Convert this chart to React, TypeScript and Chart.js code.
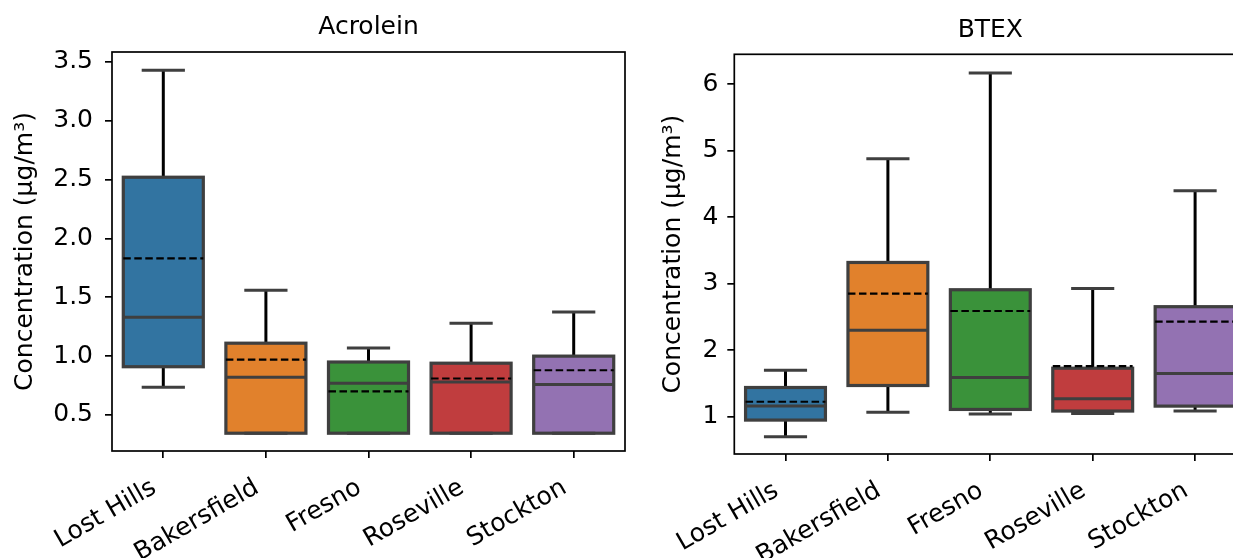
import React, { useEffect, useRef } from "react";
import { Chart, registerables } from "chart.js";

Chart.register(...registerables);

const SITES = ["Lost Hills", "Bakersfield", "Fresno", "Roseville", "Stockton"];
const COLORS = ["#3274a1", "#e1812c", "#3a923a", "#c03d3e", "#9372b2"];
const Y_TITLE = "Concentration (μg/m³)";

// Acrolein box statistics
const ACR_MIN = [0.735, 0.345, 0.345, 0.345, 0.345];
const ACR_Q1 = [0.91, 0.345, 0.345, 0.345, 0.345];
const ACR_MEDIAN = [1.33, 0.82, 0.77, 0.78, 0.76];
const ACR_MEAN = [1.83, 0.97, 0.7, 0.81, 0.88];
const ACR_Q3 = [2.52, 1.11, 0.95, 0.94, 1.0];
const ACR_MAX = [3.43, 1.56, 1.07, 1.28, 1.375];
const ACR_TICKS = [0.5, 1.0, 1.5, 2.0, 2.5, 3.0, 3.5];

// BTEX box statistics
const BTEX_MIN = [0.7, 1.066, 1.04, 1.05, 1.086];
const BTEX_Q1 = [0.95, 1.47, 1.11, 1.086, 1.16];
const BTEX_MEDIAN = [1.16, 2.3, 1.59, 1.27, 1.65];
const BTEX_MEAN = [1.226, 2.85, 2.59, 1.76, 2.43];
const BTEX_Q3 = [1.44, 3.32, 2.91, 1.73, 2.655];
const BTEX_MAX = [1.7, 4.88, 6.17, 2.93, 4.4];
const BTEX_TICKS = [1, 2, 3, 4, 5, 6];

const FAMILY = "'DejaVu Sans', sans-serif";
const FONT_SIZE = 25;

type Panel = {
  title: string;
  min: number[];
  q1: number[];
  median: number[];
  mean: number[];
  q3: number[];
  max: number[];
  ticks: number[];
  decimals: number;
  yMin: number;
  yMax: number;
  padRight: number;
  padTop: number;
  titleY: number;
  yW: number;
  xH: number;
  yTitlePad: number;
  tickPad: number;
};

function boxPlugin(p: Panel) {
  return {
    id: "boxplot_" + p.title,
    afterDatasetsDraw(chart: any) {
      const { ctx, chartArea } = chart;
      const y = chart.scales.y;
      const meta = chart.getDatasetMeta(0);
      ctx.save();
      meta.data.forEach((bar: any, i: number) => {
        const cx = bar.x;
        const w = bar.width;
        const half = w / 2;
        const capHalf = w * 0.27;
        const yq1 = y.getPixelForValue(p.q1[i]);
        const yq3 = y.getPixelForValue(p.q3[i]);
        const ymin = y.getPixelForValue(p.min[i]);
        const ymax = y.getPixelForValue(p.max[i]);
        const ymed = y.getPixelForValue(p.median[i]);
        const ymean = y.getPixelForValue(p.mean[i]);
        ctx.lineCap = "butt";
        // whiskers
        ctx.strokeStyle = "#000";
        ctx.lineWidth = 3;
        ctx.beginPath();
        ctx.moveTo(cx, yq3);
        ctx.lineTo(cx, ymax);
        ctx.moveTo(cx, yq1);
        ctx.lineTo(cx, ymin);
        ctx.stroke();
        // caps
        ctx.strokeStyle = "#3f3f3f";
        ctx.lineWidth = 3;
        ctx.beginPath();
        ctx.moveTo(cx - capHalf, ymax);
        ctx.lineTo(cx + capHalf, ymax);
        ctx.moveTo(cx - capHalf, ymin);
        ctx.lineTo(cx + capHalf, ymin);
        ctx.stroke();
        // box outline
        ctx.strokeStyle = "#3f3f3f";
        ctx.lineWidth = 3.2;
        ctx.strokeRect(cx - half, yq3, w, yq1 - yq3);
        // median
        ctx.beginPath();
        ctx.lineWidth = 3;
        ctx.moveTo(cx - half, ymed);
        ctx.lineTo(cx + half, ymed);
        ctx.stroke();
        // mean (dashed)
        ctx.strokeStyle = "#000";
        ctx.lineWidth = 2.2;
        ctx.setLineDash([7.5, 3.5]);
        ctx.beginPath();
        ctx.moveTo(cx - half, ymean);
        ctx.lineTo(cx + half, ymean);
        ctx.stroke();
        ctx.setLineDash([]);
      });
      // axes frame
      ctx.strokeStyle = "#000";
      ctx.lineWidth = 1.7;
      ctx.strokeRect(
        chartArea.left,
        chartArea.top,
        chartArea.right - chartArea.left,
        chartArea.bottom - chartArea.top
      );
      // subplot title centred over the axes
      ctx.fillStyle = "#000";
      ctx.font = `${FONT_SIZE}px ${FAMILY}`;
      ctx.textAlign = "center";
      ctx.textBaseline = "middle";
      ctx.fillText(p.title, (chartArea.left + chartArea.right) / 2, p.titleY);
      ctx.restore();
    },
  };
}

function makeConfig(p: Panel): any {
  const tickFont = { family: FAMILY, size: FONT_SIZE };
  return {
    type: "bar",
    data: {
      labels: SITES,
      datasets: [
        {
          data: SITES.map((_, i) => [p.q1[i], p.q3[i]]),
          backgroundColor: COLORS,
          borderWidth: 0,
          barPercentage: 0.78,
          categoryPercentage: 1.0,
        },
      ],
    },
    options: {
      responsive: false,
      animation: false,
      devicePixelRatio: 1,
      layout: { padding: { left: 0, right: p.padRight, top: p.padTop, bottom: 0 } },
      plugins: {
        legend: { display: false },
        tooltip: { enabled: false },
        title: { display: false },
      },
      scales: {
        x: {
          type: "category",
          offset: true,
          grid: {
            offset: false,
            drawOnChartArea: false,
            drawTicks: true,
            tickLength: 7,
            color: "#000",
            lineWidth: 1.7,
          },
          border: { display: false },
          ticks: {
            minRotation: 30,
            maxRotation: 30,
            autoSkip: false,
            padding: 15,
            labelOffset: -9,
            color: "#000",
            font: tickFont,
          },
          afterFit: (s: any) => {
            s.height = p.xH;
          },
        },
        y: {
          min: p.yMin,
          max: p.yMax,
          afterBuildTicks: (s: any) => {
            s.ticks = p.ticks.map((v) => ({ value: v }));
          },
          grid: {
            drawOnChartArea: false,
            drawTicks: true,
            tickLength: 7,
            color: "#000",
            lineWidth: 1.7,
          },
          border: { display: false },
          ticks: {
            padding: p.tickPad,
            color: "#000",
            font: tickFont,
            callback: (v: any) => Number(v).toFixed(p.decimals),
          },
          title: {
            display: true,
            text: Y_TITLE,
            color: "#000",
            font: { family: FAMILY, size: FONT_SIZE },
            padding: { top: p.yTitlePad, bottom: 0 },
          },
          afterFit: (s: any) => {
            s.width = p.yW;
          },
        },
      },
    },
    plugins: [boxPlugin(p)],
  };
}

const ACR_PANEL: Panel = {
  title: "Acrolein",
  min: ACR_MIN,
  q1: ACR_Q1,
  median: ACR_MEDIAN,
  mean: ACR_MEAN,
  q3: ACR_Q3,
  max: ACR_MAX,
  ticks: ACR_TICKS,
  decimals: 1,
  yMin: 0.194,
  yMax: 3.584,
  padRight: 15,
  padTop: 52,
  titleY: 27.5,
  yW: 112,
  xH: 107,
  yTitlePad: 10,
  tickPad: 12,
};

const BTEX_PANEL: Panel = {
  title: "BTEX",
  min: BTEX_MIN,
  q1: BTEX_Q1,
  median: BTEX_MEDIAN,
  mean: BTEX_MEAN,
  q3: BTEX_Q3,
  max: BTEX_MAX,
  ticks: BTEX_TICKS,
  decimals: 0,
  yMin: 0.44,
  yMax: 6.45,
  padRight: 13.7,
  padTop: 54.3,
  titleY: 30.5,
  yW: 94.3,
  xH: 104,
  yTitlePad: 18,
  tickPad: 9,
};

export default function App() {
  const ref1 = useRef<HTMLCanvasElement>(null);
  const ref2 = useRef<HTMLCanvasElement>(null);

  useEffect(() => {
    const c1 = new Chart(ref1.current!, makeConfig(ACR_PANEL));
    const c2 = new Chart(ref2.current!, makeConfig(BTEX_PANEL));
    return () => {
      c1.destroy();
      c2.destroy();
    };
  }, []);

  return (
    <div
      style={{
        position: "fixed",
        left: 0,
        top: 0,
        width: 1233,
        height: 558,
        overflow: "hidden",
        background: "#fff",
      }}
    >
      <canvas
        ref={ref1}
        width={640}
        height={558}
        style={{ position: "absolute", left: 0, top: 0, width: 640, height: 558 }}
      />
      <canvas
        ref={ref2}
        width={620}
        height={558}
        style={{ position: "absolute", left: 640, top: 0, width: 620, height: 558 }}
      />
    </div>
  );
}
